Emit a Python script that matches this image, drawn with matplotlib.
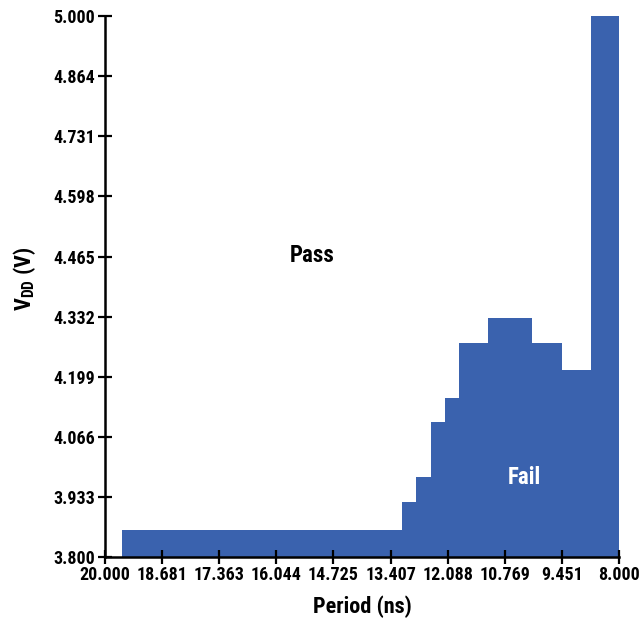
import numpy as np
import matplotlib
matplotlib.use("Agg")
import matplotlib.pyplot as plt

# condensed bold font, falls back to DejaVu
plt.rcParams['font.family'] = ['Roboto Condensed', 'DejaVu Sans']
plt.rcParams['font.weight'] = 'bold'
plt.rcParams['mathtext.fontset'] = 'custom'
plt.rcParams['mathtext.rm'] = 'Roboto Condensed:bold'
plt.rcParams['mathtext.bf'] = 'Roboto Condensed:bold'

# fail region boundary: period edges (ns) and VDD level (V) of each step
period_edges = [8.0, 8.66, 9.34, 10.03, 11.05, 11.73, 12.06, 12.40, 12.74, 13.07, 19.61]
fail_vdd = [5.0, 4.216, 4.276, 4.331, 4.276, 4.153, 4.099, 3.977, 3.922, 3.861]

x_tick_labels = ['20.000', '18.681', '17.363', '16.044', '14.725',
                 '13.407', '12.088', '10.769', '9.451', '8.000']
y_tick_labels = ['3.800', '3.933', '4.066', '4.199', '4.332',
                 '4.465', '4.598', '4.731', '4.864', '5.000']

vmin, vmax = 3.8, 5.0
pmax, pmin = 20.0, 8.0

fig = plt.figure(figsize=(6.42, 6.24), dpi=100)
ax = fig.add_axes([105/642, 1 - 557.3/624, 514/642, 541.3/624])

ax.stairs(fail_vdd, period_edges, baseline=vmin, fill=True, color='#3a62ae')

ax.set_xlim(pmax, pmin)
ax.set_ylim(vmin, vmax)

ax.set_xticks(np.linspace(pmax, pmin, len(x_tick_labels)))
ax.set_xticklabels(x_tick_labels)
ax.set_yticks(np.linspace(vmin, vmax, len(y_tick_labels)))
ax.set_yticklabels(y_tick_labels)

for side in ['top', 'right']:
    ax.spines[side].set_visible(False)
for side in ['left', 'bottom']:
    ax.spines[side].set_linewidth(1.8)
ax.tick_params(direction='inout', length=10.5, width=1.6, labelsize=13, pad=1)
ax.tick_params(axis='y', pad=2)

ax.text(15.16, 4.47, 'Pass', ha='center', va='center', fontsize=16.5, fontweight='bold')
ax.text(10.2, 3.978, 'Fail', ha='center', va='center', fontsize=16.5, fontweight='bold',
        color='white')

ax.set_xlabel('Period (ns)', fontsize=16, fontweight='bold', labelpad=8)
ax.set_ylabel(r'V$_{\mathbf{DD}}$ (V)', fontsize=16, fontweight='bold', va='center')
ax.yaxis.set_label_coords(-0.157, 0.515)

fig.savefig('out.png', dpi=100)
